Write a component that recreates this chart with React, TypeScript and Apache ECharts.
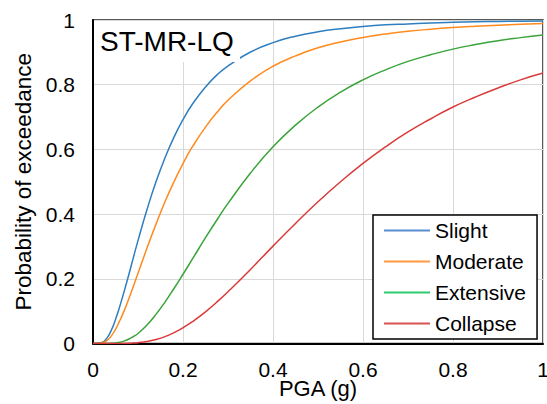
import React, { useEffect, useRef } from "react";
import * as echarts from "echarts";

const pga = [0, 0.02, 0.03, 0.04, 0.05, 0.06, 0.07, 0.08, 0.09, 0.1, 0.12, 0.14, 0.16, 0.18, 0.2, 0.22, 0.25, 0.28, 0.3, 0.35, 0.4, 0.45, 0.5, 0.55, 0.6, 0.65, 0.7, 0.75, 0.8, 0.85, 0.9, 0.95, 1.0];

const slight = [0, 0.003, 0.015, 0.039, 0.074, 0.117, 0.165, 0.215, 0.267, 0.318, 0.414, 0.5, 0.574, 0.638, 0.692, 0.738, 0.793, 0.836, 0.858, 0.901, 0.93, 0.95, 0.9635, 0.973, 0.98, 0.985, 0.988, 0.991, 0.993, 0.9945, 0.9956, 0.9965, 0.997];
const moderate = [0, 0.002, 0.008, 0.022, 0.044, 0.072, 0.104, 0.14, 0.178, 0.217, 0.295, 0.369, 0.438, 0.5, 0.556, 0.606, 0.669, 0.722, 0.752, 0.812, 0.857, 0.889, 0.914, 0.932, 0.946, 0.9565, 0.965, 0.9715, 0.9767, 0.9807, 0.984, 0.9867, 0.989];
const extensive = [0, 0, 0, 0.0005, 0.0017, 0.004, 0.008, 0.0138, 0.0216, 0.031, 0.057, 0.09, 0.128, 0.17, 0.214, 0.259, 0.327, 0.392, 0.433, 0.527, 0.608, 0.675, 0.731, 0.777, 0.815, 0.846, 0.872, 0.8925, 0.91, 0.924, 0.936, 0.9455, 0.954];
const collapse = [0, 0, 0, 0, 0, 0.0001, 0.0003, 0.0008, 0.0015, 0.0026, 0.0063, 0.0125, 0.0214, 0.0335, 0.0487, 0.0666, 0.098, 0.134, 0.16, 0.229, 0.301, 0.371, 0.438, 0.5, 0.557, 0.608, 0.654, 0.694, 0.731, 0.762, 0.79, 0.815, 0.836];

const seriesNames = ["Slight", "Moderate", "Extensive", "Collapse"];
const seriesValues = [slight, moderate, extensive, collapse];
const lineColors = ["#2f7ebf", "#ff8a1e", "#3aa43a", "#d93a3a"];
const legendColors = ["#5b8dd0", "#ff9a40", "#2ecc71", "#d9534f"];
const xTicks = [0, 0.2, 0.4, 0.6, 0.8, 1];
const yTicks = [0, 0.2, 0.4, 0.6, 0.8, 1];
const chartTitle = "ST-MR-LQ";
const xTitle = "PGA (g)";
const yTitle = "Probability of exceedance";

const FONT = "'Liberation Sans', Arial, sans-serif";

export default function App() {
  const ref = useRef<HTMLDivElement>(null);
  useEffect(() => {
    if (!ref.current) return;
    const chart = echarts.init(ref.current, undefined, { renderer: "svg" });
    chart.setOption({
      animation: false,
      backgroundColor: "#ffffff",
      textStyle: { fontFamily: FONT },
      grid: {
        left: 93,
        top: 20,
        right: 4,
        bottom: 60.5,
        show: true,
        borderColor: "#222",
        borderWidth: 1.5,
        containLabel: false,
        outerBoundsMode: "none",
      },
      xAxis: {
        type: "value",
        min: xTicks[0],
        max: xTicks[xTicks.length - 1],
        interval: xTicks[1] - xTicks[0],
        name: xTitle,
        nameLocation: "middle",
        nameGap: 34,
        nameMoveOverlap: false,
        nameTextStyle: { fontSize: 22, color: "#000", fontFamily: FONT },
        axisLine: { show: true, lineStyle: { color: "#000", width: 2 } },
        axisTick: { show: false },
        axisLabel: { fontSize: 21, color: "#000", margin: 15, fontFamily: FONT },
        splitLine: { show: true, lineStyle: { color: "#d9d9d9", width: 1 } },
      },
      yAxis: {
        type: "value",
        min: yTicks[0],
        max: yTicks[yTicks.length - 1],
        interval: yTicks[1] - yTicks[0],
        name: yTitle,
        nameLocation: "middle",
        nameGap: 58,
        nameMoveOverlap: false,
        nameTextStyle: { fontSize: 22.5, color: "#000", fontFamily: FONT },
        axisLine: { show: true, lineStyle: { color: "#000", width: 2 } },
        axisTick: { show: false },
        axisLabel: { fontSize: 21, color: "#000", margin: 18, fontFamily: FONT },
        splitLine: { show: true, lineStyle: { color: "#d9d9d9", width: 1 } },
      },
      legend: {
        orient: "vertical",
        left: 373,
        top: 215,
        padding: [5, 11, 5, 11],
        borderColor: "#000",
        borderWidth: 1.5,
        backgroundColor: "#fff",
        icon: "rect",
        itemWidth: 46,
        itemHeight: 2,
        itemGap: 10,
        textStyle: { fontSize: 21, color: "#000", fontFamily: FONT, padding: [0, 0, 0, 0] },
        data: seriesNames.map((n, i) => ({ name: n, itemStyle: { color: legendColors[i] } })),
      },
      graphic: [
        {
          type: "rect",
          z: 100,
          shape: { x: 94, y: 21, width: 146, height: 41 },
          style: { fill: "#fff" },
        },
        {
          type: "text",
          z: 101,
          x: 100,
          y: 41.7,
          style: {
            text: chartTitle,
            fontSize: 28,
            fontFamily: FONT,
            fill: "#000",
            verticalAlign: "middle",
            align: "left",
          },
        },
      ],
      series: seriesNames.map((n, i) => ({
        name: n,
        type: "line",
        smooth: true,
        symbol: "none",
        showSymbol: false,
        lineStyle: { color: lineColors[i], width: 1.5 },
        itemStyle: { color: lineColors[i] },
        data: pga.map((x, j) => [x, seriesValues[i][j]]),
      })),
    });
    return () => chart.dispose();
  }, []);
  return (
    <div
      ref={ref}
      style={{ position: "fixed", left: 0, top: 0, width: 547, height: 404, background: "#fff" }}
    />
  );
}
